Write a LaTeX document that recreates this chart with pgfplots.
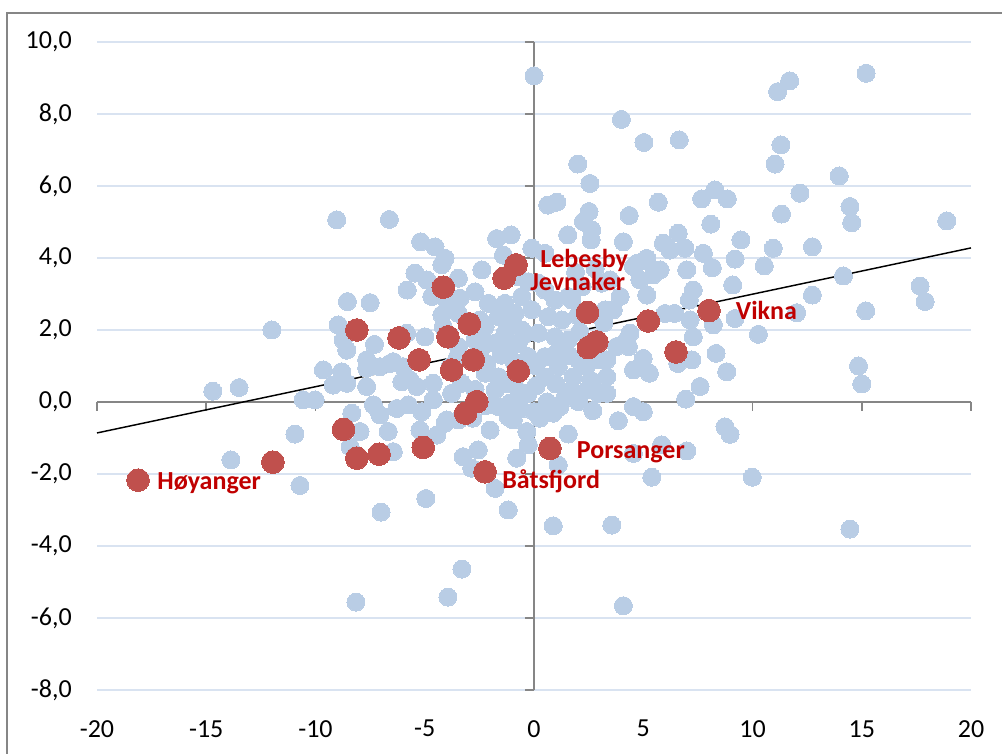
\documentclass[border=0pt]{standalone}
\usepackage{pgfplots}
\pgfplotsset{compat=1.18}
\usepackage{fontspec}
\setmainfont{Carlito}
\definecolor{ptblue}{RGB}{185,205,229}
\definecolor{ptred}{RGB}{192,80,77}
\definecolor{lblred}{RGB}{192,0,0}
\definecolor{gridc}{RGB}{217,227,241}
\definecolor{axc}{RGB}{134,134,134}
\pgfplotstableread{
x y
0.00 9.06
15.20 9.13
11.70 8.92
11.15 8.62
4.00 7.85
5.03 7.21
6.65 7.28
11.30 7.14
11.03 6.61
2.00 6.61
13.97 6.28
2.56 6.07
12.17 5.80
8.28 5.89
7.67 5.64
8.85 5.64
5.69 5.55
8.09 4.94
0.63 5.47
1.04 5.55
2.52 5.29
14.46 5.43
14.54 4.98
18.89 5.03
11.33 5.22
4.36 5.18
2.26 5.01
2.64 4.78
2.61 4.50
1.54 4.64
-1.05 4.64
4.09 4.45
6.60 4.69
5.92 4.41
6.22 4.22
6.91 4.27
9.47 4.50
7.75 4.13
10.95 4.27
12.74 4.31
9.20 3.97
10.54 3.78
8.16 3.73
5.08 3.94
5.77 3.67
6.99 3.67
4.55 3.76
-0.10 4.27
14.16 3.50
9.09 3.25
7.29 3.11
12.74 2.97
17.67 3.22
17.90 2.79
15.18 2.53
12.02 2.48
9.20 2.32
10.27 1.88
8.21 2.14
7.29 1.81
8.33 1.35
7.22 1.17
8.82 0.84
14.85 1.00
15.00 0.50
6.44 2.46
6.00 2.46
5.16 3.99
4.70 3.85
4.85 3.39
5.46 3.53
5.16 2.97
7.11 2.83
7.14 2.28
4.39 1.91
3.94 2.93
3.48 3.39
3.63 2.56
4.24 1.72
5.00 1.21
4.55 0.89
5.28 0.80
6.58 1.07
3.33 1.17
3.33 0.70
3.33 0.24
4.32 1.54
3.78 1.54
7.60 0.43
6.94 0.08
4.55 -0.13
5.00 -0.27
3.86 -0.52
2.69 -0.24
1.57 -0.89
2.03 0.01
2.44 0.33
1.19 -0.13
0.88 -0.31
0.27 -0.45
0.00 -0.27
-0.33 -0.82
-0.26 -1.19
-0.79 -1.56
1.11 -1.75
-1.18 -3.00
0.88 -3.44
3.56 -3.42
4.09 -5.66
14.46 -3.53
9.99 -2.09
5.39 -2.09
8.74 -0.69
8.97 -0.90
5.84 -1.19
6.99 -1.36
4.55 -1.43
-1.10 -0.03
-0.95 -0.50
-1.71 4.54
0.50 4.13
-1.40 4.08
-2.39 3.67
-4.07 3.99
-3.46 3.44
-2.70 3.06
-2.09 2.74
-3.77 2.74
-3.46 2.46
-0.72 3.48
-0.26 3.34
0.20 3.30
0.50 3.11
-0.56 2.93
0.96 2.83
1.57 2.93
-1.33 2.74
-0.87 2.46
-0.10 2.56
0.65 2.37
1.27 2.28
1.73 2.83
-1.63 2.37
-2.24 2.09
-1.33 1.91
-0.56 2.00
0.20 1.91
0.96 1.81
1.57 1.72
-2.70 1.72
-2.09 1.63
-0.72 1.63
-3.46 1.54
3.10 3.30
3.25 2.56
2.20 3.20
2.00 2.40
3.20 2.20
2.10 1.95
1.90 3.60
2.80 3.70
-3.24 -1.52
-2.55 -1.33
-2.85 -1.84
-1.78 -2.40
-2.01 -0.78
-1.18 -0.41
-1.63 -0.13
-3.46 -0.50
-4.07 -0.59
-3.77 0.24
-1.78 0.33
-0.26 0.24
0.50 0.70
1.11 0.98
2.03 1.17
2.94 1.17
0.50 1.26
-0.26 1.26
-1.63 0.70
-2.24 0.80
-3.31 0.52
2.94 0.24
-1.78 1.63
-1.02 1.54
1.27 1.54
1.73 0.33
-9.03 5.06
-6.62 5.07
-5.19 4.45
-4.53 4.31
-4.22 3.81
-5.45 3.58
-4.91 3.39
-5.80 3.11
-4.68 2.93
-4.00 2.83
-8.54 2.79
-7.50 2.76
-4.22 2.42
-8.96 2.14
-8.73 1.72
-7.30 1.60
-5.83 1.91
-4.99 1.81
-4.15 2.09
-3.39 2.88
-2.47 2.28
-2.16 1.07
-7.66 1.17
-6.44 1.12
-8.57 1.44
-9.64 0.89
-8.80 0.84
-9.19 0.47
-8.57 0.52
-10.56 0.06
-10.02 0.06
-7.66 0.94
-7.66 0.43
-7.05 0.98
-6.59 1.07
-5.98 0.98
-6.05 0.56
-5.37 0.43
-4.61 0.52
-7.35 -0.08
-7.05 -0.36
-8.34 -0.31
-7.96 -0.82
-8.42 -1.24
-6.67 -0.82
-6.44 -1.38
-6.28 -0.18
-5.75 -0.08
-5.14 -0.27
-5.22 -0.78
-4.45 -0.92
-4.61 0.06
-4.00 -0.50
-10.94 -0.89
-10.71 -2.32
-4.95 -2.68
-3.84 0.98
-5.68 0.61
-14.70 0.30
-13.50 0.40
-13.87 -1.61
-12.00 2.00
-8.15 -5.56
-3.94 -5.42
-3.30 -4.64
-7.00 -3.06
-3.50 1.25
-2.50 1.35
-1.50 1.30
-0.90 1.10
0.10 1.00
0.90 1.30
1.60 1.30
2.40 1.00
2.60 0.60
1.80 0.70
1.00 0.50
0.10 0.45
-0.70 0.30
-1.20 0.50
-2.70 0.35
-2.20 -0.10
-0.60 -0.20
0.60 0.00
1.40 0.10
-2.80 -0.45
-0.40 1.90
-1.10 2.20
}\bluedata
\pgfplotstableread{
x y
-18.12 -2.17
-11.95 -1.67
-8.72 -0.76
-8.11 -1.56
-7.09 -1.45
-5.07 -1.26
-8.11 2.00
-6.18 1.78
-5.26 1.17
-4.15 3.19
-3.94 1.81
-3.77 0.89
-2.96 2.17
-2.78 1.17
-3.13 -0.31
-2.62 0.01
-2.24 -1.94
-1.37 3.44
-0.82 3.81
-0.72 0.86
0.73 -1.29
2.45 2.49
2.49 1.51
2.87 1.67
5.23 2.25
6.50 1.39
8.01 2.54
}\reddata
\begin{document}
\begin{tikzpicture}[x=1pt,y=1pt]
\path[use as bounding box] (0,0) rectangle (751.5,564.75);
\draw[axc, line width=1.2pt] (5.25,-5) -- (5.25,555) -- (760,555);
\begin{axis}[
  at={(72.75pt,47.25pt)}, anchor=south west,
  scale only axis, width=655.5pt, height=486pt,
  xmin=-20, xmax=20, ymin=-8, ymax=10,
  xtick={-20,-15,...,20}, ytick={-8,-6,...,10},
  axis line style={draw=none},
  major tick length=0pt,
  ymajorgrids, grid style={gridc, line width=1.4pt},
  tick label style={font=\fontsize{19.5}{22}\selectfont, inner sep=0pt, text=black},
  xticklabel style={anchor=north, yshift=-22.5pt},
  yticklabel style={anchor=east, xshift=-18.75pt},
  yticklabel={\pgfmathprintnumber[assume math mode=true,fixed,fixed zerofill,precision=1,use comma]{\tick}},
  xticklabel={\pgfmathprintnumber[assume math mode=true,fixed,precision=0]{\tick}},
  clip=false, unbounded coords=jump,
]
% zero axes and their tick marks
\addplot[axc, line width=1.2pt, no marks] coordinates {(-20,0) (20,0)};
\addplot[axc, line width=1.2pt, no marks] coordinates {(0,-8) (0,10)};
\addplot[axc, line width=1.2pt, no marks] coordinates {
(-20,0) (-20,-0.24) (nan,nan) (-15,0) (-15,-0.24) (nan,nan)
(-10,0) (-10,-0.24) (nan,nan) (-5,0) (-5,-0.24) (nan,nan)
(0,0) (0,-0.24) (nan,nan) (5,0) (5,-0.24) (nan,nan)
(10,0) (10,-0.24) (nan,nan) (15,0) (15,-0.24) (nan,nan)
(20,0) (20,-0.24)};
\addplot[axc, line width=1.2pt, no marks] coordinates {
(0,-8) (-0.4,-8) (nan,nan) (0,-6) (-0.4,-6) (nan,nan)
(0,-4) (-0.4,-4) (nan,nan) (0,-2) (-0.4,-2) (nan,nan)
(0,0) (-0.4,0) (nan,nan) (0,2) (-0.4,2) (nan,nan)
(0,4) (-0.4,4) (nan,nan) (0,6) (-0.4,6) (nan,nan)
(0,8) (-0.4,8) (nan,nan) (0,10) (-0.4,10)};
\addplot[ptblue, only marks, mark=*, mark size=6.75pt, mark options={solid, fill=ptblue, draw=ptblue, line width=0pt}] table {\bluedata};
\addplot[black, line width=1.1pt, no marks] coordinates {(-20,-0.86) (20,4.28)};
\addplot[ptred, only marks, mark=*, mark size=8.5pt, mark options={solid, fill=ptred, draw=ptred, line width=0pt}] table {\reddata};
\coordinate (lLeb) at (axis cs:-0.82,3.81);
\coordinate (lJev) at (axis cs:-1.37,3.44);
\coordinate (lVik) at (axis cs:8.01,2.54);
\coordinate (lPor) at (axis cs:0.73,-1.29);
\coordinate (lBat) at (axis cs:-2.24,-1.94);
\coordinate (lHoy) at (axis cs:-18.12,-2.17);
\end{axis}
\begin{scope}[every node/.style={anchor=west, text=lblred, font=\bfseries\fontsize{19.5}{22}\selectfont, inner sep=0pt}]
\node[xshift=18pt, yshift=3.5pt] at (lLeb) {Lebesby};
\node[xshift=19.5pt, yshift=-2.5pt] at (lJev) {Jevnaker};
\node[xshift=20pt] at (lVik) {Vikna};
\node[xshift=20pt, yshift=-2.8pt] at (lPor) {Porsanger};
\node[xshift=12.75pt, yshift=-6.75pt] at (lBat) {Båtsfjord};
\node[xshift=14.25pt, yshift=-2pt] at (lHoy) {Høyanger};
\end{scope}
\end{tikzpicture}
\end{document}
